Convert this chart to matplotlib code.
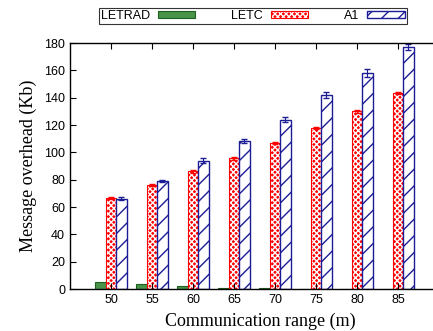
import numpy as np
from matplotlib import pyplot as plt
from matplotlib.patches import Patch

ranges = [50, 55, 60, 65, 70, 75, 80, 85]
letrad = [5, 3.5, 2, 0.8, 0.4, 0.3, 0.3, 0.3]
letc = [66.5, 76, 86, 95.5, 107, 118, 130, 143.5]
letc_err = [0.8, 0.8, 0.8, 0.8, 0.8, 0.8, 1, 1]
a1 = [66, 79, 94, 108, 124, 142, 158, 177]
a1_err = [1, 1, 1.5, 1.5, 2, 2.5, 3, 2]

plt.rcParams['hatch.linewidth'] = 1.0
fig = plt.figure(figsize=(4.33, 3.31), dpi=100)
# right part of the axes runs past the figure edge, as in the source
ax = fig.add_axes([70 / 433, 42 / 331, 380 / 433, 246 / 331])

x = np.arange(len(ranges))
w = 0.255
blue = '#1c1c96'

ax.bar(x - w, letrad, w, color='#4a944a', edgecolor='#1f5f1f', lw=0.8)
ax.bar(x, letc, w, color='red', edgecolor='white', hatch='xxxxxx', lw=0)
ax.bar(x, letc, w, fill=False, edgecolor='red', lw=0.8)
ax.errorbar(x, letc, yerr=letc_err, fmt='none', ecolor='red', capsize=2.5, lw=0.8)
ax.bar(x + w, a1, w, color='white', edgecolor=blue, hatch='//', lw=1.0)
ax.errorbar(x + w, a1, yerr=a1_err, fmt='none', ecolor=blue, capsize=2.5, lw=0.8)

ax.set_xlim(-1, 8.27)
ax.set_ylim(0, 180)
ax.set_xticks(x)
ax.set_xticklabels([str(r) for r in ranges], family='Liberation Sans', fontsize=9)
ax.set_yticks(range(0, 181, 20))
ax.set_yticklabels([str(v) for v in range(0, 181, 20)], family='Liberation Sans', fontsize=9)
ax.tick_params(direction='in', top=True, right=True, length=4, width=0.8)
for s in ax.spines.values():
    s.set_linewidth(1.0)

ax.set_xlabel('Communication range (m)', family='Liberation Serif', fontsize=13, labelpad=5)
ax.set_ylabel('Message overhead (Kb)', family='Liberation Serif', fontsize=13, labelpad=5)

h_letrad = Patch(facecolor='#4a944a', edgecolor='#1f5f1f', lw=0.8)
h_letc = (Patch(facecolor='red', edgecolor='white', hatch='xxxxxx', lw=0),
          Patch(fill=False, edgecolor='red', lw=0.8))
h_a1 = Patch(facecolor='white', edgecolor=blue, hatch='//', lw=1.0)
leg = fig.legend([h_letrad, h_letc, h_a1], ['LETRAD', 'LETC', 'A1'], ncol=3,
                 loc='upper left', bbox_to_anchor=(99 / 433, 1 - 8 / 331),
                 prop={'family': 'Liberation Sans', 'size': 9},
                 frameon=True, fancybox=False, edgecolor='black',
                 handlelength=3.0, handleheight=0.6, markerfirst=False,
                 columnspacing=2.9, handletextpad=0.6, borderpad=0.15,
                 borderaxespad=0)
leg.get_frame().set_linewidth(0.8)

fig.savefig('out.png', dpi=100)
